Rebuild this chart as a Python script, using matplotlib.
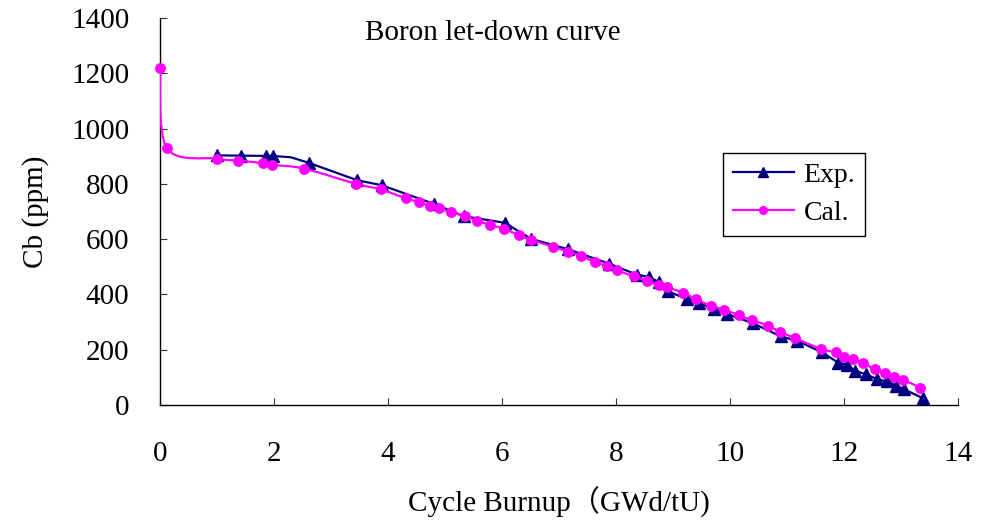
import numpy as np
import matplotlib
matplotlib.use('Agg')
import matplotlib.pyplot as plt
from matplotlib.path import Path
from matplotlib.patches import PathPatch
from matplotlib.lines import Line2D

# Measured boron concentration (Exp.) vs cycle burnup
exp_burnup = [1.0, 1.43, 1.86, 1.98, 2.3, 2.61, 3.46, 3.89, 4.80, 5.33, 6.05, 6.51,
              7.15, 7.88, 8.36, 8.58, 8.76, 8.92, 9.24, 9.46, 9.72, 9.95, 10.40,
              10.89, 11.18, 11.61, 11.90, 12.05, 12.20, 12.39, 12.58, 12.76,
              12.91, 13.05, 13.38]
exp_cb = [903, 902, 901, 901, 896, 876, 813, 795, 728, 683, 659, 601,
          564, 511, 472, 463, 444, 411, 383, 369, 347, 329, 296,
          248, 232, 191, 153, 145, 123, 111, 93, 85,
          70, 57, 25]
# the vertex at 2.3 GWd/tU carries no marker
exp_marked = [i for i in range(len(exp_burnup)) if i != 4]

# Calculated boron concentration (Cal.)
cal_burnup = [0.0, 0.12, 1.0, 1.37, 1.81, 1.96, 2.53, 3.44, 3.87, 4.31, 4.55, 4.74,
              4.89, 5.10, 5.35, 5.57, 5.79, 6.04, 6.29, 6.51, 6.90, 7.16, 7.38,
              7.63, 7.85, 8.02, 8.32, 8.54, 8.75, 8.89, 9.18, 9.40, 9.66, 9.90,
              10.16, 10.38, 10.67, 10.88, 11.14, 11.59, 11.86, 12.0, 12.15,
              12.33, 12.54, 12.72, 12.88, 13.04, 13.33]
cal_cb = [1220, 930, 891, 884, 875, 869, 855, 800, 780, 748, 734, 719,
          711, 698, 683, 667, 651, 638, 614, 598, 572, 555, 540,
          517, 502, 487, 465, 450, 434, 427, 405, 384, 359, 345,
          324, 307, 287, 264, 242, 203, 190, 175, 166,
          153, 129, 115, 100, 91, 63]

x_ticks = [0, 2, 4, 6, 8, 10, 12, 14]
y_ticks = [0, 200, 400, 600, 800, 1000, 1200, 1400]

EXP_COLOR = '#000080'
CAL_COLOR = '#FF00FF'
SERIF = ['Liberation Serif', 'Noto Sans CJK SC']


def smooth_path(xs, ys):
    # cubic bezier through every point, spreadsheet-style smoothed line
    pts = np.column_stack([xs, ys]).astype(float)
    n = len(pts)
    verts = [pts[0]]
    codes = [Path.MOVETO]
    for i in range(n - 1):
        p0 = pts[max(i - 1, 0)]
        p1 = pts[i]
        p2 = pts[i + 1]
        p3 = pts[min(i + 2, n - 1)]
        verts += [p1 + (p2 - p0) / 6, p2 - (p3 - p1) / 6, p2]
        codes += [Path.CURVE4] * 3
    return Path(verts, codes)


fig = plt.figure(figsize=(9.85, 5.2), dpi=100)
ax = fig.add_axes([0.1624, 0.2212, 0.8102, 0.7442])

ax.plot(exp_burnup, exp_cb, color=EXP_COLOR, lw=1.6, marker='^', ms=8,
        markevery=exp_marked, zorder=3)

ax.add_patch(PathPatch(smooth_path(cal_burnup, cal_cb), facecolor='none',
                       edgecolor=CAL_COLOR, lw=1.6, zorder=4))
ax.plot(cal_burnup, cal_cb, linestyle='none', marker='o', ms=6.8,
        color=CAL_COLOR, zorder=5, clip_on=False)

ax.set_xlim(0, 14)
ax.set_ylim(0, 1400)
ax.set_xticks(x_ticks)
ax.set_yticks(y_ticks)
ax.set_xticklabels([str(v) for v in x_ticks], family=SERIF, fontsize=21)
ax.set_yticklabels([str(v) for v in y_ticks], family=SERIF, fontsize=21)
ax.tick_params(axis='x', direction='in', length=5, pad=26, color='#333333')
ax.tick_params(axis='y', direction='in', length=5, pad=22, color='#333333')

for side in ['top', 'right']:
    ax.spines[side].set_visible(False)
for side in ['left', 'bottom']:
    ax.spines[side].set_linewidth(1.0)
    ax.spines[side].set_color('black')

ax.set_xlabel('Cycle Burnup（GWd/tU)', family=SERIF, fontsize=21, labelpad=14)
ax.set_ylabel('Cb (ppm)', family=SERIF, fontsize=21, labelpad=16)

fig.text(493 / 985, 1 - 33 / 520, 'Boron let-down curve', family=SERIF,
         fontsize=21, ha='center', va='center')

handles = [
    Line2D([], [], color=EXP_COLOR, lw=1.6, marker='^', ms=6.5),
    Line2D([], [], color=CAL_COLOR, lw=1.6, marker='o', ms=5.5),
]
leg = ax.legend(handles, ['Exp.', 'Cal.'], loc='upper left',
                bbox_to_anchor=(0.7055, 0.651), borderaxespad=0,
                prop={'family': 'Liberation Serif', 'size': 20},
                frameon=True, fancybox=False, framealpha=1, edgecolor='black',
                handlelength=2.2, labelspacing=0.45, handletextpad=0.35,
                borderpad=0.35)
leg.get_frame().set_linewidth(1.0)

fig.savefig('out.png', dpi=100)
